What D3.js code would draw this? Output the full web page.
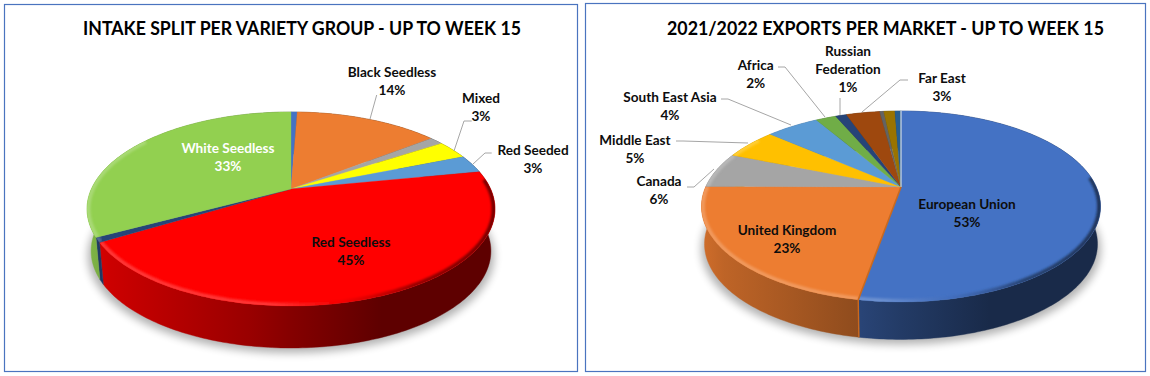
<!DOCTYPE html>
<html>
<head>
<meta charset="utf-8">
<script src="https://cdn.jsdelivr.net/npm/d3@7"></script>
<style>
html,body{margin:0;padding:0;background:#fff;}
svg{display:block;}
text{font-family:Lato,"Open Sans",sans-serif;font-weight:700;}
</style>
</head>
<body>
<svg id="chart" width="1150" height="376"></svg>
<script>
// ---- data ----
const intakeTitle = "INTAKE SPLIT PER VARIETY GROUP - UP TO WEEK 15";
const intakeCategories = ["Unlabelled A","Black Seedless","Unlabelled B","Mixed","Red Seeded","Red Seedless","Unlabelled C","White Seedless"];
const intakeValues = [0.6,13.9,1.3,3.1,3.0,44.5,0.8,32.8];
const intakeColors = ["#4472c4","#ed7d31","#a5a5a5","#ffff00","#5b9bd5","#ff0000","#264478","#92d050"];

const exportTitle = "2021/2022 EXPORTS PER MARKET - UP TO WEEK 15";
const exportCategories = ["European Union","United Kingdom","Canada","Middle East","South East Asia","Africa","Russian Federation","Far East","Unlabelled D","Unlabelled E","Unlabelled F"];
const exportValues = [52.8,22.3,6.0,5.2,5.2,2.0,1.1,3.3,0.4,1.1,0.6];
const exportColors = ["#4472c4","#ed7d31","#a5a5a5","#ffc000","#5b9bd5","#70ad47","#264478","#9e480e","#636363","#997300","#255e91"];

// ---- label layout (separate from the values) ----
const intakeLabels = [
  {lines:["Black Seedless","14%"],x:392,y:77},
  {lines:["Mixed","3%"],x:481,y:103},
  {lines:["Red Seeded","3%"],x:533,y:155},
  {lines:["Red Seedless","45%"],x:351,y:247},
  {lines:["White Seedless","33%"],x:228,y:153,fill:"#ffffff"}
];
const intakeLeaders = [
  [[376.7,95],[370,119]],
  [[471.7,121],[464,121],[454,151]],
  [[491.7,153],[485,153],[473,164]]
];
const exportLabels = [
  {lines:["European Union","53%"],x:967,y:209},
  {lines:["United Kingdom","23%"],x:787,y:235},
  {lines:["Canada","6%"],x:659,y:186},
  {lines:["Middle East","5%"],x:635,y:145},
  {lines:["South East Asia","4%"],x:670,y:102},
  {lines:["Africa","2%"],x:755.7,y:70},
  {lines:["Russian","Federation","1%"],x:848,y:56},
  {lines:["Far East","3%"],x:942,y:83}
];
const exportLeaders = [
  [[778,67],[785,67],[825,117]],
  [[840,98],[840,115]],
  [[908,80],[900,80],[862,112]],
  [[721,99],[728,99],[791,125]],
  [[676,141],[683,141],[748,143]],
  [[687,187],[694,187],[714,169]]
];

const svg = d3.select("#chart");
const defs = svg.append("defs");
defs.append("filter").attr("id","shadowBlur").attr("x","-10%").attr("y","-20%").attr("width","120%").attr("height","140%")
  .append("feGaussianBlur").attr("stdDeviation",4);
defs.append("filter").attr("id","bevelBlur").attr("x","-10%").attr("y","-20%").attr("width","120%").attr("height","140%")
  .append("feGaussianBlur").attr("stdDeviation",1.1);

const line = d3.line();
let uid = 0;

function mixWith(c, target, t){
  return d3.interpolateRgb(c, target)(t);
}

function drawFrame(x,y,w,h){
  svg.append("rect").attr("x",x).attr("y",y).attr("width",w).attr("height",h)
    .attr("fill","#fff").attr("stroke","#4a74bf").attr("stroke-width",1.2);
}

function drawPie(cfg){
  const {title,titleX,titleY,values,colors,labels,leaders,cx,apexY,A,B,k,depth,baseScale} = cfg;
  drawFrame(...cfg.frame);
  const g = svg.append("g");
  const slices = d3.pie().sort(null).value(d=>d)(values);
  const pt = (a,sx,dy,sy=1)=>{
    const u=Math.sin(a), v=-Math.cos(a), w=1-k*v;
    return [cx+A*sx*u/w, apexY+dy+B*sy*v/w];
  };
  const arcAngles = (a0,a1)=>{
    const n=Math.max(2,Math.ceil((a1-a0)/(Math.PI/180)));
    return d3.range(n+1).map(i=>a0+(a1-a0)*i/n);
  };
  const xMin=cx-A*1.03, xMax=cx+A*1.03;

  // shadow
  const all = arcAngles(0,2*Math.PI);
  g.append("path")
    .attr("d",line(all.map(a=>pt(a,baseScale*1.016,depth+5)))+"Z")
    .attr("fill","#000").attr("opacity",0.3).attr("filter","url(#shadowBlur)");

  // walls
  slices.forEach((s,i)=>{
    const id="wall"+(uid++);
    const grad=defs.append("linearGradient").attr("id",id).attr("gradientUnits","userSpaceOnUse")
      .attr("x1",xMin).attr("x2",xMax).attr("y1",0).attr("y2",0);
    [[0,.88],[.06,.8],[.4,.6],[.5,.52],[.72,.37],[1,.37]].forEach(([o,f])=>{
      grad.append("stop").attr("offset",o).attr("stop-color",mixWith(colors[i],"#000",1-f));
    });
    const as=arcAngles(s.startAngle,s.endAngle);
    const pts=as.map(a=>pt(a,1,0)).concat(as.slice().reverse().map(a=>pt(a,baseScale,depth)));
    g.append("path").attr("d",line(pts)+"Z").attr("fill",`url(#${id})`)
      .attr("stroke",`url(#${id})`).attr("stroke-width",0.4);
  });

  // top faces
  slices.forEach((s,i)=>{
    const as=arcAngles(s.startAngle,s.endAngle);
    const d=line([[cx,apexY]].concat(as.map(a=>pt(a,1,0))))+"Z";
    g.append("path").attr("d",d).attr("fill",colors[i]).attr("stroke",colors[i]).attr("stroke-width",0.3);

    // bevelled rim along the visible front part
    const lo=Math.max(s.startAngle,84*Math.PI/180), hi=Math.min(s.endAngle,305*Math.PI/180);
    if(hi>lo){
      const clipId="clip"+(uid++);
      defs.append("clipPath").attr("id",clipId).append("path").attr("d",d);
      const gid="bev"+(uid++);
      const grad=defs.append("linearGradient").attr("id",gid).attr("gradientUnits","userSpaceOnUse")
        .attr("x1",xMin).attr("x2",xMax).attr("y1",0).attr("y2",0);
      [[0,"#fff",.22,.95],[.45,"#fff",.24,.9],[.62,"#000",.05,.6],[.8,"#000",.45,.9],[1,"#000",.6,.9]].forEach(([o,t,m,op])=>{
        grad.append("stop").attr("offset",o).attr("stop-color",mixWith(colors[i],t,m)).attr("stop-opacity",op);
      });
      const wrap=g.append("g").attr("clip-path",`url(#${clipId})`);
      wrap.append("path")
        .attr("d",line(arcAngles(lo,hi).map(a=>pt(a,0.994,0,0.992))))
        .attr("fill","none").attr("stroke",`url(#${gid})`).attr("stroke-width",4.4)
        .attr("filter","url(#bevelBlur)");
    }
  });

  // cut edge between the two largest slices (second pie only)
  if(cfg.cutEdge!=null){
    const a=slices[cfg.cutEdge].startAngle;
    g.append("path").attr("d",line([[cx,apexY],pt(a,1,0)]))
      .attr("stroke","#c9691f").attr("stroke-width",1.6).attr("fill","none");
    g.append("path").attr("d",line([pt(a,1,0),pt(a,baseScale,depth)]))
      .attr("stroke","#c9691f").attr("stroke-width",1.4).attr("fill","none");
    g.append("path").attr("d",line([[cx,apexY],pt(0,1,0)]))
      .attr("stroke","#f4f4f4").attr("stroke-width",1).attr("fill","none");
  }

  // leaders
  g.selectAll(null).data(leaders).join("path")
    .attr("d",d=>line(d)).attr("fill","none").attr("stroke","#a6a6a6").attr("stroke-width",1);

  // labels
  labels.forEach(l=>{
    const t=g.append("text").attr("text-anchor","middle").attr("font-size",cfg.labelSize)
      .attr("fill",l.fill||"#0d0d0d");
    l.lines.forEach((txt,j)=>{
      t.append("tspan").attr("x",l.x).attr("y",l.y+j*18).text(txt);
    });
  });

  g.append("text").attr("x",titleX).attr("y",titleY).attr("text-anchor","middle")
    .attr("font-size",cfg.titleSize).attr("fill","#000")
    .attr("textLength",cfg.titleWidth).attr("lengthAdjust","spacingAndGlyphs").text(title);
}

drawPie({
  frame:[4.5,4.5,573,367], title:intakeTitle,titleX:302,titleY:35,titleSize:18.6,titleWidth:438,labelSize:13.6,
  values:intakeValues,colors:intakeColors,labels:intakeLabels,leaders:intakeLeaders,
  cx:291,apexY:189,A:199.6,B:92.9,k:0.206,depth:42,baseScale:0.98
});
drawPie({
  frame:[585.5,3.5,560,368], title:exportTitle,titleX:885.5,titleY:34.5,titleSize:18.6,titleWidth:437,labelSize:13.6,
  values:exportValues,colors:exportColors,labels:exportLabels,leaders:exportLeaders,
  cx:901,apexY:187,A:195.3,B:91.5,k:0.204,depth:37.5,baseScale:0.985,cutEdge:1
});
</script>
</body>
</html>
